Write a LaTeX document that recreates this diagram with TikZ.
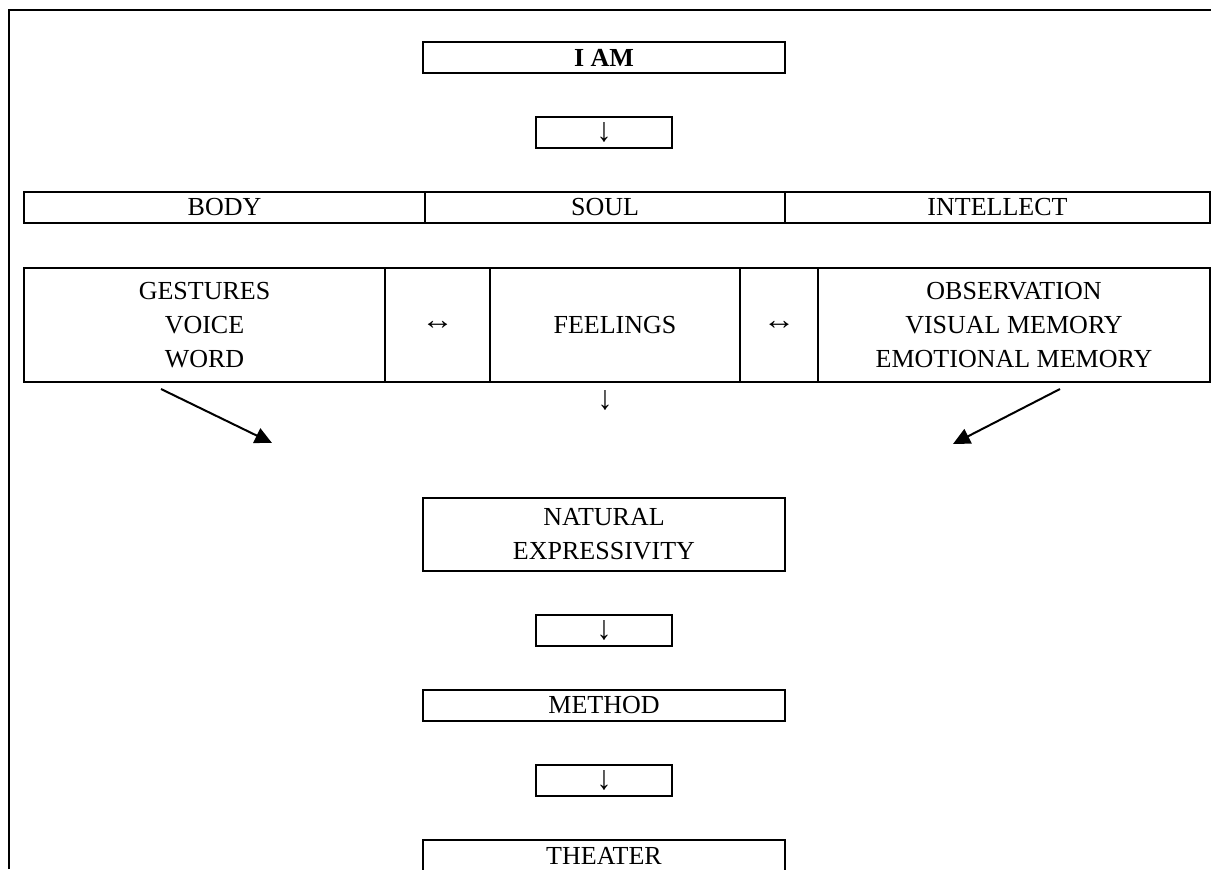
\documentclass[tikz,border=0pt]{standalone}
\usepackage{fontspec}
\setmainfont{Liberation Serif}
\usepackage{tikz}
\usetikzlibrary{
    shapes,
    positioning,
    calc,
    arrows.meta
}
\newcommand{\dnarrow}{\raisebox{-2.5pt}{\scalebox{1.15}[1.3]{↓}}}
\newcommand{\lrarrow}{\scalebox{1.25}[1.1]{↔}}
\tikzset{
  basic/.style = {
      draw,
      line width=1.3pt,
      rectangle,
      inner sep=0pt,
      outer sep=0pt,
      align=center,
      font=\fontsize{13}{17}\selectfont
  },
  wide/.style = {
      basic,
      minimum width=181pt,
      minimum height=15.5pt
  },
  small/.style = {
      basic,
      minimum width=68pt,
      minimum height=15.5pt
  },
  bar/.style = {
      basic,
      minimum height=15.5pt
  },
  cell/.style = {
      basic,
      minimum height=57pt
  },
  plain/.style = {
      draw=none,
      font=\fontsize{13}{17}\selectfont
  },
  edge/.style = {
      line width=1pt,
      -{Triangle[length=8.5pt,width=8pt]}
  }
}

\begin{document}
\begin{tikzpicture}[x=0.5pt, y=-0.5pt, node distance=22pt]
    \clip (0,0) rectangle (1211,869);
    % Frame
    \draw[line width=1.4pt] (9,869) |- (1211,10);
    % Nodes
    \node[wide] (iam) at (604,57.5) {\textbf{I AM}};
    \node[small, below=of iam] (a1) {\dnarrow};
    \node[bar, minimum width=200.5pt, anchor=north west] (body) at (24,192) {BODY};
    \node[bar, minimum width=180pt, right=0pt of body] (soul) {SOUL};
    \node[bar, minimum width=212.5pt, right=0pt of soul] (intellect) {INTELLECT};
    \node[cell, minimum width=180.5pt, anchor=north west] (gestures) at (24,268) {GESTURES\\VOICE\\WORD};
    \node[cell, minimum width=52.5pt, right=0pt of gestures] (lr1) {\lrarrow};
    \node[cell, minimum width=125pt, right=0pt of lr1] (feelings) {FEELINGS};
    \node[cell, minimum width=39pt, right=0pt of feelings] (lr2) {\lrarrow};
    \node[cell, minimum width=196pt, right=0pt of lr2] (observation) {OBSERVATION\\VISUAL MEMORY\\EMOTIONAL MEMORY};
    \node[plain] (down) at (605,400) {\scalebox{1.15}[1.3]{↓}};
    \node[wide, minimum height=36.5pt] (natural) at (604,534.5) {NATURAL\\EXPRESSIVITY};
    \node[small, below=of natural] (a2) {\dnarrow};
    \node[wide, below=of a2] (method) {METHOD};
    \node[small, below=of method] (a3) {\dnarrow};
    \node[wide, below=of a3] (theater) {THEATER};
    % Edges
    \coordinate (l1) at (161,389);
    \coordinate (l2) at (272,443);
    \coordinate (r1) at (1060,389);
    \coordinate (r2) at (953,444);
    \path[draw, edge] (l1) -- (l2);
    \path[draw, edge] (r1) -- (r2);
\end{tikzpicture}
\end{document}
